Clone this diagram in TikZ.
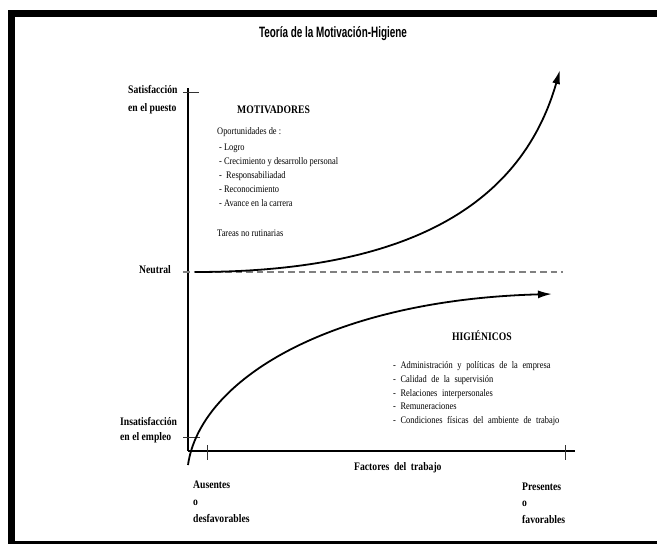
\documentclass[tikz,border=0pt]{standalone}
\usepackage{fontspec}
\setmainfont{Liberation Serif}
\newfontfamily\nserif[FakeStretch=0.84]{Liberation Serif}
\newfontfamily\ttlfont[FakeStretch=0.66]{Liberation Sans}
\usetikzlibrary{arrows.meta}
\tikzset{
  lab/.style={font=\nserif\bfseries\fontsize{11.5}{13}\selectfont, inner sep=0pt, anchor=base west},
  headtxt/.style={font=\nserif\bfseries\fontsize{11.5}{13}\selectfont, inner sep=0pt, anchor=base west},
  itemtxt/.style={font=\nserif\fontsize{10}{12}\selectfont, inner sep=0pt, anchor=base west},
  widesp/.style={execute at begin node={\spaceskip=4.6pt\relax}},
  curve/.style={line width=1.8pt, -{Latex[length=14pt,width=8pt]}},
  tick/.style={line width=1pt, black!80},
  frame/.style={line width=7pt, black},
}
\begin{document}
\begin{tikzpicture}[x=1pt,y=-1pt]
\useasboundingbox (0,0) rectangle (657,544);
% frame
\draw[frame] (8,13.5) -- (657,13.5);
\draw[frame] (11.5,10) -- (11.5,544);
\draw[line width=3pt] (8,542.5) -- (657,542.5);
% title
\node[font=\ttlfont\bfseries\fontsize{15}{17}\selectfont, anchor=base, inner sep=0pt] (title) at (333,37) {Teoría de la Motivación-Higiene};
% axes
\coordinate (O) at (188,451);
\coordinate (ytop) at (188,88);
\coordinate (xend) at (575,451);
\draw[line width=1.6pt] (ytop) -- (O);
\draw[line width=2.5pt] (O) -- (xend);
\coordinate (t1a) at (183,92); \coordinate (t1b) at (199,92);
\coordinate (t2a) at (183,437); \coordinate (t2b) at (200,437);
\coordinate (t3a) at (207,445); \coordinate (t3b) at (207,460);
\coordinate (t4a) at (565,445); \coordinate (t4b) at (565,460);
\draw[tick] (t1a) -- (t1b);
\draw[tick] (t2a) -- (t2b);
\draw[tick] (t3a) -- (t3b);
\draw[tick] (t4a) -- (t4b);
% neutral dashed line
\coordinate (n0) at (183,272);
\coordinate (n1) at (563,272);
\draw[gray, line width=1.2pt, dash pattern=on 6.5pt off 4pt] (n0) -- (n1);
% curves
\coordinate (m0) at (195,272);
\coordinate (m1) at (560,70);
\draw[curve] (m0) .. controls (400,272) and (520,210) .. (m1);
\coordinate (h0) at (188,465);
\coordinate (h1) at (552,294);
\draw[curve] (h0) .. controls (200,380) and (330,300) .. (h1);
% axis labels
\node[lab] (sat) at (128,93) {Satisfacción};
\node[lab] (sat2) at (128,111) {en el puesto};
\node[lab] (neu) at (139,273) {Neutral};
\node[lab] (ins) at (120,425) {Insatisfacción};
\node[lab] (ins2) at (120,440) {en el empleo};
\node[lab] (aus) at (193,488) {Ausentes};
\node[lab] (aus2) at (193,505) {o};
\node[lab] (aus3) at (193,522) {desfavorables};
\node[lab] (pre) at (522,490) {Presentes};
\node[lab] (pre2) at (522,506) {o};
\node[lab] (pre3) at (522,523) {favorables};
\node[lab, widesp] (fac) at (354,470) {Factores del trabajo};
% motivators
\node[headtxt] (mot) at (237,113) {MOTIVADORES};
\node[itemtxt] (mo0) at (217,134) {Oportunidades de :};
\node[itemtxt] (mo1) at (219,150) {- Logro};
\node[itemtxt] (mo2) at (219,164) {- Crecimiento y desarrollo personal};
\node[itemtxt] (mo3) at (219,178) {-\ \ Responsabiliadad};
\node[itemtxt] (mo4) at (219,192) {- Reconocimiento};
\node[itemtxt] (mo5) at (219,206) {- Avance en la carrera};
\node[itemtxt] (mo6) at (217,236) {Tareas no rutinarias};
% hygiene
\node[headtxt] (hig) at (452,340) {HIGIÉNICOS};
\node[itemtxt, widesp] (hi1) at (393,368) {- Administración y políticas de la empresa};
\node[itemtxt, widesp] (hi2) at (393,382) {- Calidad de la supervisión};
\node[itemtxt, widesp] (hi3) at (393,396) {- Relaciones interpersonales};
\node[itemtxt, widesp] (hi4) at (393,409) {- Remuneraciones};
\node[itemtxt, widesp] (hi5) at (393,423) {- Condiciones físicas del ambiente de trabajo};
\end{tikzpicture}
\end{document}
